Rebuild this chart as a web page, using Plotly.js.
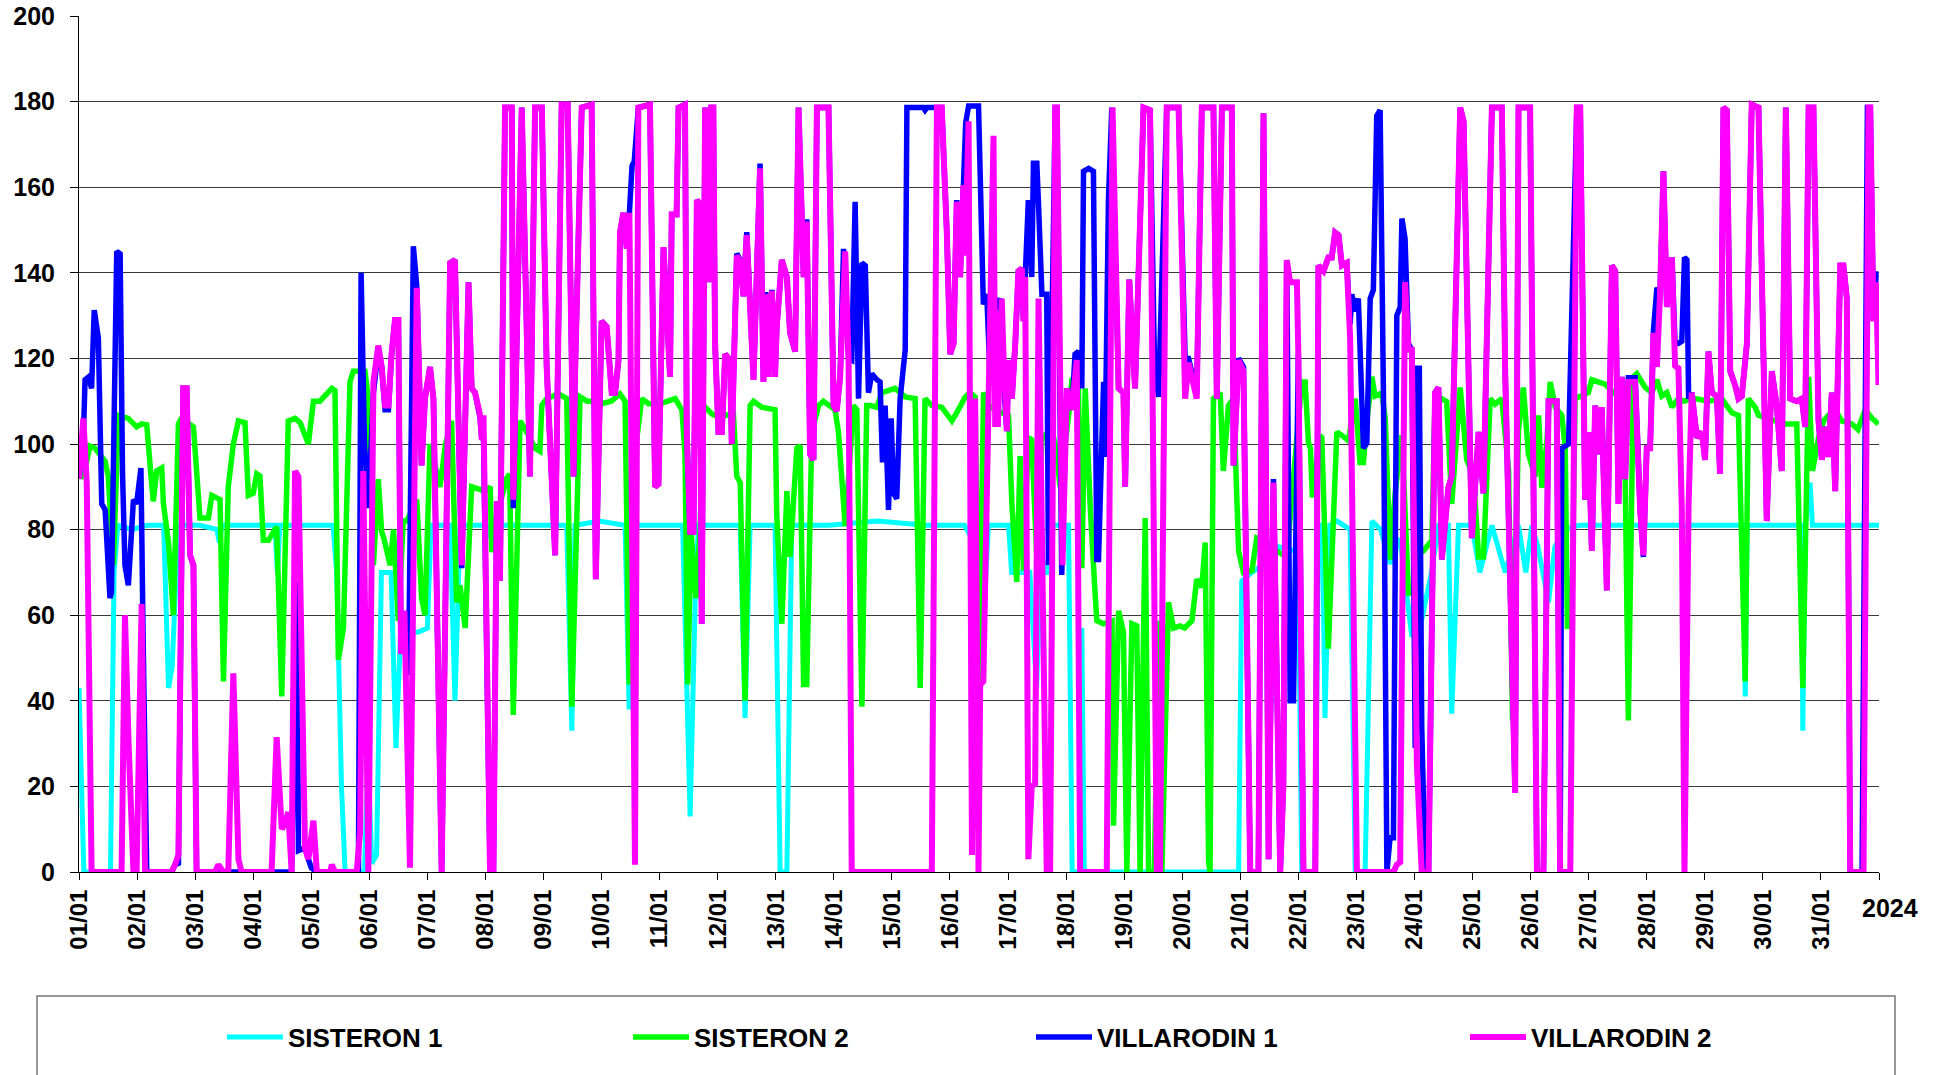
<!DOCTYPE html>
<html><head><meta charset="utf-8">
<script src="https://cdn.plot.ly/plotly-3.0.1.min.js"></script>
<style>html,body{margin:0;padding:0;background:#fff;} #chart{width:1945px;height:1075px;}</style>
</head><body><div id="chart"></div>
<script>
const dayLabels = ['01/01','02/01','03/01','04/01','05/01','06/01','07/01','08/01','09/01','10/01','11/01','12/01','13/01','14/01','15/01','16/01','17/01','18/01','19/01','20/01','21/01','22/01','23/01','24/01','25/01','26/01','27/01','28/01','29/01','30/01','31/01'];
const yearLabel = '2024';
const seriesNames = ['SISTERON 1','SISTERON 2','VILLARODIN 1','VILLARODIN 2'];
const seriesColors = ['#00FFFF','#00FF00','#0000FF','#FF00FF'];

// [hour since 01/01 00:00, value]
const sisteron1 = [[0,43],[2,0],[13,0],[14.5,70],[16,81],[22,80],[28,81],[35,81],[37,43],[38.5,48],[41,81],[50,81],[57,80],[58,77],[59,81],[70,81],[81,81],[82,70],[83,81],[95,81],[105,81],[106.5,70],[108.5,20],[110,0],[118,0],[119.5,27],[121,2],[123,4],[125,70],[129,70],[131,29],[133,57],[140,56],[144,57],[145.5,81],[153.4,81],[155.4,40],[157.5,81],[169,81],[170,78],[171,81],[190,81],[201.6,81],[203.7,33],[205,81],[215,82],[225.7,81],[227.4,38],[228.5,81],[240,81],[249.5,81],[252.6,13],[254.7,64],[256,81],[273.3,81],[275.3,36],[277.4,81],[287.7,81],[289.8,0],[292.6,0],[294.6,81],[310,81],[330,82],[350,81],[366,81],[369,78],[372,36],[374,60],[375.9,81],[384.2,81],[385.5,70],[389.7,70],[393,70],[395.8,43],[397.5,70],[400,70],[402,81],[409,81],[410.5,0],[414,0],[414.5,57],[415.5,0],[479.3,0],[480.6,68],[484.8,70],[490,72],[495.8,76],[502.7,75],[504,70],[505.4,0],[511,0],[512.3,81],[514,81],[515,36],[517,81],[520,82],[525.4,80],[527.5,0],[531.6,0],[534.4,82],[538,80],[542,72],[546,78],[550.9,55],[555,59],[559,70],[562,81],[566,81],[567.4,37],[570.2,81],[575.7,81],[579,70],[584,81],[589.5,70],[595,81],[598,70],[600.5,81],[603,76],[607.4,63],[610,76],[614,80],[620,81],[640,81],[660,81],[688,81],[688.7,41],[689.5,81],[712,81],[712.5,33],[713.5,81],[715.5,91],[716.5,81],[744,81]];

const sisteron2 = [[0,93.7],[1.8,92],[4.5,99.5],[6.6,99],[10.8,96],[12.1,92.4],[14.2,71.7],[16.3,106.7],[20.4,106],[23.8,104],[25.9,104.7],[28,104.5],[29.4,95],[30.7,86.6],[32.1,93.7],[34.2,94.4],[34.9,86],[37,77],[39,60],[41.1,104.7],[42.4,106],[47.3,104],[50,82.7],[53.5,82.7],[54.9,88],[58.3,87],[59.7,44.5],[61.7,90],[63.8,100],[65.9,105.4],[68.6,105],[70,88],[72,88.5],[73.5,93],[74.8,92.5],[76.2,77.5],[78.3,77.5],[81.7,80.7],[83.8,41],[86.5,105.4],[89.3,106],[91.4,105],[94.8,100],[96.9,110],[99.6,110],[104.5,113],[105.8,112.5],[107.2,49.6],[109.3,57],[112,114.5],[113.4,117],[118.2,117],[119.6,110.6],[121.7,71.7],[123.7,91.8],[125.1,79.5],[126,78],[128.6,71.7],[130,80],[132,58.7],[134,82],[135.5,82],[139.6,87],[141.6,64],[143,60],[145.1,100],[149.2,90],[151.5,100],[154,105.4],[156.1,63],[157.5,67],[159.6,57],[162.3,90],[167.8,89],[170,90],[170.6,74.7],[172,82],[176.8,92],[178,93],[179.5,36.7],[182.3,105.4],[184.4,103.5],[188.5,99],[190.5,98.3],[191.3,109],[193.3,110.6],[198.2,111.7],[201.6,110.6],[203.7,38.6],[207.1,111],[210,110],[212,110],[216,109.4],[220,110],[223.6,111.7],[225.7,110],[227.4,43.8],[229,94],[232.6,110.6],[235.4,109.4],[240.2,109.4],[246.4,110.6],[249.2,108],[250.5,97.6],[251.6,43.8],[253,79.5],[255,64],[256.7,79.5],[258.1,109],[261.6,107],[263.6,106.5],[270.5,107],[271.9,92.4],[273.3,91],[275.3,40],[277.4,109],[278.8,110],[282.2,108.6],[287.7,108],[288.4,83.3],[290.5,58],[292.6,89],[293.9,73.6],[296.7,99],[298.1,99.6],[299.5,43.8],[300.8,43.8],[302.9,102.8],[305.7,109],[307.7,110],[312.5,108],[313.9,102.8],[316.7,80.8],[320.1,109],[321.5,108],[323.6,38.6],[325.6,109],[327,109],[329.8,108.6],[331.8,112],[337.3,113],[341.5,111],[345.6,110.6],[347.7,43],[349.7,110.6],[352.5,109],[356.6,108.6],[360.8,105.4],[362.8,107.3],[366.3,111],[368.3,112],[370.4,111],[372,43.8],[373.9,112],[376.6,108.6],[381.4,107.3],[384.2,106.7],[385.6,86],[387.6,67.8],[389,97.2],[390.4,70.4],[392.4,101.5],[393.8,101],[396,72],[398,101],[402,104],[404,98],[405.5,90],[409,106.5],[410.4,115],[413,115.7],[414.5,71],[415.9,113],[418,85],[420,65],[420.7,58.7],[423.5,58],[427,58.7],[427.6,10.8],[429.7,61],[431.7,56],[433.1,0],[435.2,58],[437.2,57.5],[438.6,0],[440.7,82.7],[442.1,0],[444.5,0],[446.2,58.7],[447.6,0],[450.3,63],[452.4,57],[455,57.5],[457,57],[460,58.7],[462,68.4],[464.1,66.5],[465.5,77],[466.9,2.3],[467.5,0],[468.9,110.6],[471.7,112],[473,93.7],[475.1,109],[477.2,110.6],[479.3,75],[481.3,70],[484.8,70.4],[486.8,78],[490.3,77],[495.1,75],[499.2,73.6],[505.4,114.5],[506.8,114.5],[508.2,100.2],[509,99],[509.8,87.5],[513,102],[513.7,101.5],[516.4,52.2],[519.9,102.8],[522,102],[524.7,100.8],[527.5,110.6],[529.5,95.7],[530.9,95.7],[532.3,105.4],[534.4,115.7],[535.7,111.2],[538.5,111.9],[539.9,106],[542,73],[544,88.5],[546.8,102],[549.5,65.2],[551.6,65.2],[553.7,74.3],[555.7,75],[559.2,77.5],[560.5,110.6],[563.3,110.6],[565.3,109.9],[567.4,86],[570.9,113.2],[573.6,96.3],[576.4,92.4],[578.5,73.6],[580.5,73.6],[583.3,110.6],[585.3,109.3],[588.1,110.6],[590.9,93.7],[592.5,35.4],[595,103.4],[597,113.2],[599.1,97.6],[601.9,92.4],[603.3,106.7],[604.6,89.8],[606.7,100.2],[608.1,114.5],[610.2,108.6],[612.9,106.7],[614.3,99],[615.2,57.4],[617,57.4],[618.4,110.6],[623.9,112],[625.3,115],[630.8,114],[634.2,112],[637.7,110.6],[639.1,92.4],[640.4,35.4],[642.5,115.7],[643.9,116.4],[647.3,113.2],[650.1,112],[652.2,115],[654.2,111.2],[656.3,112],[658.4,108.6],[661.1,110.6],[663.2,110],[668,110.6],[673.5,110],[679,110.6],[683.2,107.3],[685.9,106.7],[688.7,44.5],[690,110.6],[692.8,108.6],[694.2,106.7],[701.1,105.4],[705.2,104.7],[710,104.7],[712.5,43],[714.9,115.7],[716.5,93.7],[719,101.5],[721.1,105.4],[723.1,106.7],[725.9,108],[728.6,105.4],[732.8,104.7],[735.3,103.4],[738.3,108],[741.1,106],[743.8,104.7]];

const villarodin1 = [[0,92],[1.8,101.5],[2.5,115],[4,115.7],[5.2,113],[6.3,131.3],[8,124.8],[9.4,86],[10.8,84.6],[12.8,64],[13.4,65.3],[15.6,145],[17,144.4],[18,93],[19,71.7],[20.4,67],[22.5,87],[23.8,86],[25.6,94.4],[26.5,55],[28,0],[38.3,0],[39.7,1.7],[41.1,2],[43.1,113],[44.5,113],[45.9,74],[47.3,71.7],[48.6,0],[87.9,0],[89.3,50],[90,68],[90.7,5],[93.4,5.6],[94.8,3],[96,1],[98.3,0],[115.5,0],[116.6,140],[118,100],[119.6,85],[121.7,112],[123.7,122],[125.1,118],[126.5,108],[127.9,108],[129.2,121],[130.6,129],[132,129],[133.1,51],[134.5,61],[136.2,46],[138.2,146.2],[139.6,137],[141.6,95],[143,110.6],[145.1,118],[146.5,110.6],[149.9,0],[153.4,142.3],[155.4,143],[158.2,71],[161,137.8],[162.3,113],[163.7,112],[165.8,106],[166.5,101],[167.2,101.5],[169.9,0],[171.3,0],[172.7,86.6],[174,68],[176.1,178.6],[178.9,178.6],[179.5,85],[183,178.6],[186.4,92.4],[188.5,178.6],[191.3,178.6],[193.3,118],[196.8,74],[199.5,179.3],[202,179.3],[204.4,92.4],[205,115.7],[207.8,178.6],[211.9,179.3],[213.6,68.4],[216,128.7],[218.1,127.4],[220.2,112],[221.6,112],[223,119.6],[223.6,149.4],[225,154],[226.4,145.6],[227.5,154],[228.6,165],[229.5,166],[231.2,178.6],[236,179.3],[238.1,90],[239.5,90.6],[241.6,146],[244.3,115.7],[245,153.6],[247,153.6],[247.8,178.6],[250.5,179.3],[251.2,102.8],[252.6,79.5],[254,79.5],[255.4,157],[256.3,156.3],[257.4,58],[258.8,178.6],[260.2,137.8],[261.3,178.6],[262.2,178.6],[262.9,123.5],[264.3,102.8],[265.7,102.8],[267.1,121],[269.1,119.6],[269.8,100],[271.9,144.5],[273.3,143],[274.6,134.5],[276,149.5],[278.8,115],[281.5,165.5],[282.9,114.5],[283.9,135.5],[285,115.7],[286.4,136],[287.7,115.7],[288.4,127.4],[290.5,143],[292.6,139],[293.9,126],[296,121.6],[297.4,178.6],[299.5,139],[300.8,152.5],[302.2,97.6],[303.6,96.3],[305,178.6],[309.8,178.6],[311.9,109],[313.2,107.7],[314.6,115.7],[316,145.6],[318.1,120],[319.4,119.6],[320.8,156.6],[322.2,110.6],[323.6,142.3],[325,141.7],[326.3,112],[327.7,116.4],[329.8,115],[331.1,114.5],[332.1,95.7],[333.2,109],[334.6,84.6],[335.7,106],[336.7,88.5],[338,87.2],[339.4,110.6],[341.5,122],[342.2,178.6],[349,178.6],[349.7,178],[350.5,178.6],[356.6,178.6],[358.7,149.4],[360.1,121],[361.5,123.5],[362.8,157],[364.2,139],[365.6,161],[366.5,175],[367.7,179],[371.8,179],[373.8,132.6],[375.2,135],[376.6,115.7],[378,131],[380.7,134],[381.4,121],[383.5,103],[384.2,119.6],[385.6,110.6],[387,123.5],[388.3,140.4],[389.7,141],[390.4,128.7],[391.1,139],[392.4,157],[393.8,139],[394.5,165.6],[395.9,165.6],[396.6,156],[398,135],[400,135],[400.7,71.7],[403.5,178.6],[404.2,178.6],[406.2,69.4],[408.3,113],[410.4,108],[411.7,121],[413.1,121.6],[414.5,113],[415.2,163.7],[417.3,164.4],[419.3,163.7],[420.7,73],[421.4,73],[423.5,114.5],[424.1,97],[425.5,157],[426.9,178.6],[429.7,113],[431.7,112],[432.4,90],[434.1,138.4],[436.5,113],[437.9,139],[440,178.6],[442.7,178],[444.5,120],[446.2,111],[449.6,178.6],[454.5,178.6],[457.2,120],[458.6,120],[462,112],[464.1,178.6],[468.9,178.6],[470.3,110.6],[472.4,178.6],[476.5,178.6],[477.2,95],[479.3,120],[481.3,118],[484.1,0],[487.5,0],[489.6,177.3],[491.7,3],[493.7,91.8],[496.5,0],[497.8,20],[499.2,143],[500.6,40],[502,40],[504,121],[506.1,0],[511,0],[512.3,141.7],[514.4,140.4],[516.4,143.6],[517.8,143.6],[519.2,149.4],[520.6,148.8],[522,141.7],[524,142.3],[525.4,128],[526.1,135],[527.5,131],[528.8,134],[530.9,99],[532.3,100.2],[533.7,134],[535,136],[536.4,176.7],[537.8,178],[539.2,110],[540.6,0],[541.9,8],[543.3,8],[544.7,130],[546.1,132],[546.8,152.7],[548.1,148],[549.5,123.5],[550.9,122],[552.3,29],[553,117.7],[554,117.7],[555,34],[556.4,0],[557.8,0],[560.5,112],[561.9,113.2],[563.3,73],[566,89.8],[567.4,92.4],[570.9,178.6],[572.3,175.4],[575.7,78],[578.5,102.8],[580.5,88.5],[584,178.6],[588.1,178.6],[589.5,116.4],[591.5,69],[593.6,18.5],[595,178.6],[599.8,178.6],[602.6,0],[605.3,0],[607.4,110],[610.8,110],[612.2,0],[612.9,99],[615.7,100],[619.1,178.6],[620.5,178.6],[622.5,87],[623.9,102.8],[625.3,75],[626.7,109],[628,97.6],[629.4,108.6],[631.5,65.8],[633.6,141.7],[635,140.4],[636.3,86],[637.7,115.7],[639.1,91.8],[640.4,115.5],[643.2,115.5],[645.3,84.6],[646.6,73.6],[648,99],[649.4,99],[650.8,126.8],[652.2,136.5],[653.5,135],[654.9,163.7],[656.3,132],[658.4,143.6],[659.7,123.5],[661.1,123.5],[662.5,124],[663.6,143.6],[664.6,143],[665.3,110.6],[666.6,112],[668.7,101.5],[670.8,102.8],[672.1,96.3],[673.5,121.6],[674.9,112],[677,111.2],[678.3,93],[679.7,178.6],[681.1,178],[682.5,117],[684.5,113.8],[685.9,110.6],[687.3,111.2],[689.4,123.5],[691.4,179.3],[694.2,178.6],[697.6,82],[699.7,117],[701.8,108.6],[703.8,93.7],[705.5,178.6],[707.3,110.6],[710,110],[712.1,110.6],[713.5,104],[714.9,178.6],[716.9,178.6],[719,105.4],[720.4,96.3],[721.7,104],[723.1,97],[724.5,112],[725.9,89],[728,141.7],[729.3,141.7],[730.7,134],[732.1,0],[737,0],[739.2,178.6],[740.4,178.6],[741.7,128.7],[742.8,139.7],[743.8,139.7]];

const villarodin2 = [[0,91.8],[1.8,106],[3.2,91],[5.2,0],[17.6,0],[19,60],[20.5,30],[22.5,0],[23.8,0],[25.9,62.6],[27.3,0],[38.3,0],[39.7,1.7],[41.1,4],[43.1,113],[44.5,113],[45.9,74],[47.3,71.7],[48.6,0],[56.2,0],[57.6,1.7],[59.7,0],[61.7,0],[63.8,46.4],[65.9,3],[67.2,0],[79.6,0],[81.7,31.5],[83.8,10],[85.2,11.4],[86.5,14],[87.9,0],[89.3,93.7],[90.7,92.4],[93.4,5.6],[94.8,3],[96.9,12],[98.3,0],[103.8,0],[104.5,1.7],[105.8,0],[114.8,0],[116.2,9.5],[117.5,93.7],[119.6,0],[121.7,114.5],[123.7,123],[125.1,118],[126.5,109],[127.9,109],[129.2,121],[130.6,129],[132,129],[133.1,51],[134.5,61],[136.8,1],[139.6,136.5],[141.6,95],[143,110.6],[145.1,118],[146.5,110.6],[149.9,0],[153.4,142.3],[155.4,143],[158.2,71.7],[161,137.8],[162.3,113],[163.7,112],[165.8,106.7],[166.5,101],[167.2,106.7],[169.9,0],[171.3,0],[172.7,86.6],[174,68],[176.1,178.6],[178.9,178.6],[179.5,87],[183,178.6],[186.4,92.4],[188.5,178.6],[191.3,178.6],[193.3,118],[196.8,74],[199.5,179.3],[202,179.3],[204.4,92.4],[205,115.7],[207.8,178.6],[211.9,179.3],[213.6,68.4],[216,128.7],[218.1,127.4],[220.2,112],[221.6,112],[223,119.6],[223.6,149.4],[225,154],[226.4,145.6],[227.5,154],[229.8,1.7],[231.2,178.6],[236,179.3],[238.1,90],[239.5,90.6],[241.6,146],[244.3,115.7],[245,153.6],[247,153.6],[247.8,178.6],[250.5,179.3],[251.2,102.8],[252.6,79.5],[254,79.5],[255.4,157],[256.3,156.3],[257.4,58],[258.8,178.6],[260.2,137.8],[261.3,178.6],[262.2,178.6],[262.9,123.5],[264.3,102.8],[265.7,102.8],[267.1,121],[269.1,119.6],[269.8,100],[271.9,144],[273.3,142.6],[274.6,134.5],[276,148.8],[278.8,115],[281.5,164.4],[282.9,114.5],[283.9,135],[285,115.7],[286.4,135.8],[287.7,115.7],[288.4,127.4],[290.5,143],[292.6,139],[293.9,126],[296,121.6],[297.4,178.6],[299.5,139],[300.8,152],[302.2,97.6],[303.6,96.3],[305,178.6],[309.8,178.6],[311.9,109],[313.2,107.7],[314.6,115.7],[316.7,145],[318.1,119.6],[319.4,0],[352.5,0],[354.6,178.6],[356.6,178.6],[358.7,149.4],[360.1,121],[361.5,123.5],[362.8,156.6],[364.2,139],[365.6,160.5],[366.3,144],[367.7,175.4],[369.1,4],[370.4,110.6],[371.8,0],[372.5,43.8],[373.8,44.5],[378,172],[378.7,104],[379.4,131],[379.8,104],[381.4,134],[382.1,121],[383.5,103],[384.2,119.6],[385.6,110.6],[387,123.5],[388.3,140.4],[389.7,141],[390.4,128.7],[391.1,139],[392.4,3],[393.8,20],[395.2,20.6],[396.6,134],[400,0],[401.4,0],[403.5,178.6],[404.2,178.6],[406.5,71.7],[408.3,113],[410.4,108],[412.4,119.6],[413.8,0],[424.8,0],[427.2,178.6],[429.7,113],[431.7,112],[432.4,90],[434.1,138.4],[436.5,113],[437.9,139],[440,178.6],[442.7,178],[445.5,0],[446.8,0],[449.6,178.6],[454.5,178.6],[457.2,110.6],[458.6,119],[462,110.6],[464.1,178.6],[468.9,178.6],[470.3,110.6],[472.4,178.6],[476.5,178.6],[477.2,95],[479.3,119.6],[481.3,117],[484.1,0],[487.5,0],[489.6,177.3],[491.7,3],[493.7,91],[496.5,0],[497.8,20],[499.2,143],[500.6,137.8],[503.4,137.8],[504,121],[506.1,0],[511,0],[512.3,141.7],[514.4,140.4],[516.4,143.6],[517.8,143.6],[519.2,149.4],[520.6,148.8],[522,141.7],[524,142.3],[525.4,124.8],[528.2,0],[543.3,0],[544.7,1.7],[546.1,2.3],[548.1,137.8],[549.5,122],[550.9,122],[553,25],[555,0],[557.8,0],[560.5,112],[561.9,113.2],[563.3,73],[566,89.8],[567.4,92.4],[570.9,178.6],[572.3,175.4],[575.7,78],[578.5,102.8],[580.5,88.5],[584,178.6],[588.1,178.6],[589.5,116.4],[591.5,69],[593.6,18.5],[595,178.6],[599.8,178.6],[602.6,0],[605.3,0],[607.4,110],[610.8,110],[612.2,0],[616.4,0],[619.1,178.6],[620.5,178.6],[622.5,87],[623.9,102.8],[625.3,75],[626.7,109],[628,97.6],[629.4,108.6],[631.5,65.8],[633.6,141.7],[635,140.4],[636.3,86],[637.7,115.7],[639.1,91.8],[640.4,114.5],[643.2,114.5],[645.3,84.6],[646.6,74],[648,99],[649.4,99],[650.8,126],[652.2,118],[653.5,135],[654.9,163.7],[656.3,132],[658.4,143.6],[659.7,118.3],[661.1,117.7],[662.5,84.6],[663.6,0],[665.3,86],[666.6,112],[668.7,101.5],[670.8,102.8],[672.1,96.3],[673.5,121.6],[674.9,112],[677,111.2],[678.3,93],[679.7,178.6],[681.1,178],[682.5,117],[684.5,113.8],[685.9,110.6],[687.3,111.2],[689.4,123.5],[691.4,179.3],[694.2,178.6],[697.6,82],[699.7,117],[701.8,108.6],[703.8,93.7],[705.5,178.6],[707.3,110.6],[710,110],[712.1,110.6],[713.5,104],[714.9,178.6],[716.9,178.6],[719,105.4],[720.4,96.3],[721.7,104],[723.1,97],[724.5,112],[725.9,89],[728,141.7],[729.3,141.7],[730.7,134],[732.1,0],[737.6,0],[739.7,178.6],[740.4,178.6],[741.7,128.7],[742.8,137.8],[743.8,113.8]];

const allSeries = [sisteron1, sisteron2, villarodin1, villarodin2];
const lineWidths = [5, 5.5, 5.5, 6];
const legendIds = ['legend','legend2','legend3','legend4'];
const legendX = [0.0794, 0.305, 0.5289, 0.77];

const FONT = 'Arial, "Liberation Sans", Helvetica, sans-serif';

const traces = allSeries.map((s, i) => ({
  type: 'scatter', mode: 'lines', name: seriesNames[i],
  x: s.map(p => p[0]), y: s.map(p => p[1]),
  line: {color: seriesColors[i], width: lineWidths[i], simplify: false},
  legend: legendIds[i], hoverinfo: 'skip'
}));

const tickVals = dayLabels.map((_, i) => i * 24).concat([744]);
const tickText = dayLabels.concat(['']);

const layout = {
  width: 1945, height: 1075,
  margin: {l: 79, r: 66, t: 16, b: 203},
  paper_bgcolor: '#fff', plot_bgcolor: '#fff',
  showlegend: true,
  xaxis: {
    range: [0, 744], tickmode: 'array', tickvals: tickVals, ticktext: tickText,
    tickangle: -90, ticks: 'outside', ticklen: 7, tickcolor: '#000', tickwidth: 1,
    showline: true, linecolor: '#000', linewidth: 1, showgrid: false, zeroline: false,
    tickfont: {family: FONT, size: 24, color: '#000', weight: 700}
  },
  yaxis: {
    range: [0, 200], dtick: 20, tick0: 0, ticks: 'outside', ticklen: 8, tickcolor: '#000',
    showline: true, linecolor: '#000', linewidth: 1, showgrid: true, gridcolor: '#3a3a3a', gridwidth: 1,
    zeroline: false, ticklabelstandoff: 10,
    tickfont: {family: FONT, size: 25, color: '#000', weight: 700}
  },
  annotations: [{
    xref: 'paper', yref: 'paper', x: 1.0061, y: -0.042, xanchor: 'center', yanchor: 'middle',
    text: yearLabel, showarrow: false, font: {family: FONT, size: 25, color: '#000', weight: 700}
  }],
  shapes: [{
    type: 'rect', xref: 'paper', yref: 'paper', x0: -0.02333, x1: 1.00889, y0: -0.2488, y1: -0.14486,
    line: {color: '#777', width: 1.5}, fillcolor: 'rgba(0,0,0,0)', layer: 'below'
  }]
};
legendIds.forEach((id, i) => {
  layout[id] = {
    x: legendX[i], y: -0.1928, xanchor: 'left', yanchor: 'middle', orientation: 'h',
    bgcolor: 'rgba(0,0,0,0)', borderwidth: 0, itemwidth: 56,
    font: {family: FONT, size: 26, color: '#000', weight: 700}
  };
});

Plotly.newPlot('chart', traces, layout, {displayModeBar: false, staticPlot: true});
</script>
</body></html>
